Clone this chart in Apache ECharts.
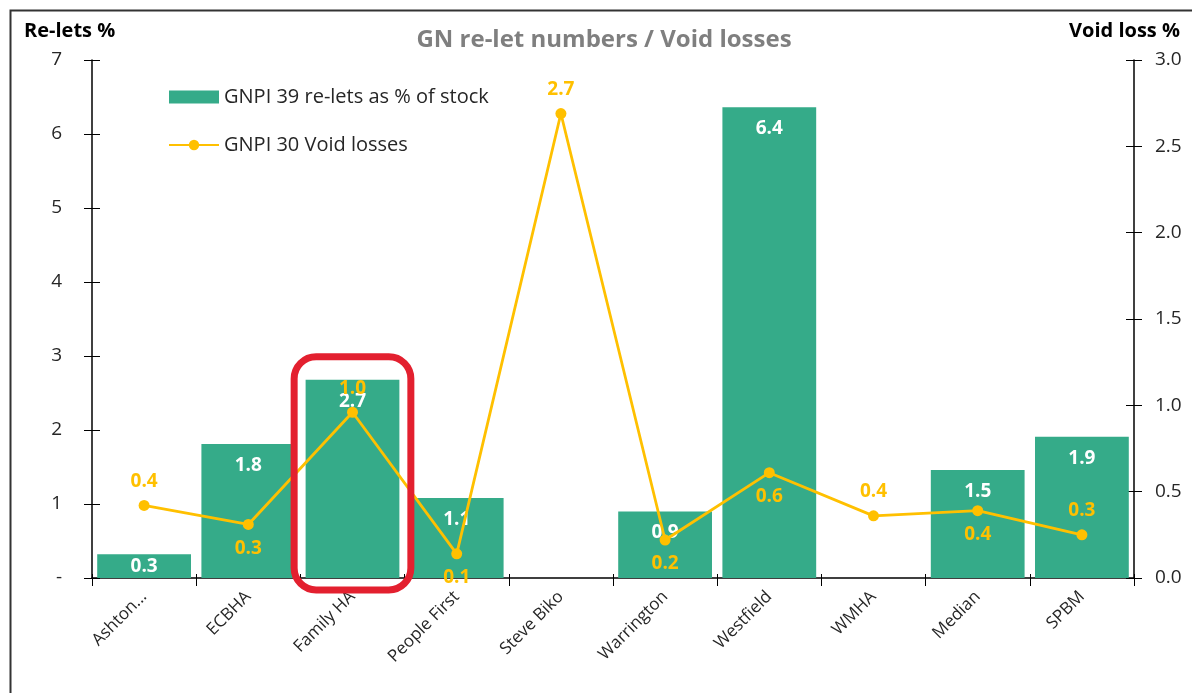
<!DOCTYPE html>
<html><head><meta charset="utf-8">
<script src="https://cdn.jsdelivr.net/npm/echarts@6/dist/echarts.min.js"></script>
<style>html,body{margin:0;padding:0;background:#fff}#c{width:1192px;height:693px}</style>
</head><body><div id="c"></div>
<script>
const categories = ['Ashton...', 'ECBHA', 'Family HA', 'People First', 'Steve Biko', 'Warrington', 'Westfield', 'WMHA', 'Median', 'SPBM'];
const reletsPct = [0.32, 1.81, 2.68, 1.08, null, 0.9, 6.36, null, 1.46, 1.91];
const voidLoss = [0.42, 0.31, 0.96, 0.14, 2.69, 0.22, 0.61, 0.36, 0.39, 0.25];
const leftTicks = [0, 1, 2, 3, 4, 5, 6, 7];
const rightTicks = [0, 0.5, 1, 1.5, 2, 2.5, 3];
const highlightCategory = 'Family HA';

const lineLabelSide = ['top', 'bottom', 'top', 'bottom', 'top', 'bottom', 'bottom', 'top', 'bottom', 'top'];
const GREEN = '#35AB89', GOLD = '#FFC000';
const FONT = 'Open Sans, Liberation Sans, sans-serif';

const tickOnly = (pos, min, max, interval) => ({
  type: 'value', min, max, interval, position: pos,
  axisLine: { show: false }, axisLabel: { show: false }, splitLine: { show: false },
  axisTick: { show: true, inside: true, length: 8, lineStyle: { color: '#000' } }
});

const chart = echarts.init(document.getElementById('c'));
const borderRect = { type: 'rect', left: 8, top: 8, shape: { width: 1300, height: 800 }, style: { fill: 'none', stroke: '#333', lineWidth: 2 }, silent: true };
chart.setOption({
  animation: false,
  textStyle: { fontFamily: FONT },
  title: [
    { text: 'GN re-let numbers / Void losses', left: 604, textAlign: 'center', top: 28, padding: 0,
      textStyle: { color: '#7f7f7f', fontSize: 24, fontWeight: 'bold' } },
    { text: 'Re-lets %', left: 24, top: 21, padding: 0,
      textStyle: { color: '#000', fontSize: 20, fontWeight: 'bold' } },
    { text: 'Void loss %', right: 12, top: 21, padding: 0,
      textStyle: { color: '#000', fontSize: 20, fontWeight: 'bold' } }
  ],
  legend: {
    orient: 'vertical', left: 168, top: 87, padding: 0, itemGap: 28, itemWidth: 50, itemHeight: 13,
    textStyle: { fontSize: 20, color: '#262626' },
    data: [
      { name: 'GNPI 39 re-lets as % of stock', icon: 'rect' },
      { name: 'GNPI 30 Void losses' }
    ]
  },
  grid: { left: 92, right: 58, top: 60, bottom: 115 },
  xAxis: [
    {
      type: 'category', data: categories, position: 'bottom',
      axisLine: { lineStyle: { color: '#000', width: 1.5 } },
      axisTick: { show: true, length: 8, lineStyle: { color: '#000' } },
      axisLabel: { rotate: 45, fontSize: 17, color: '#262626', margin: 16 }
    },
    {
      type: 'category', data: categories, position: 'bottom',
      axisLine: { show: false }, axisLabel: { show: false },
      axisTick: { show: true, inside: true, length: 4, lineStyle: { color: '#000' } }
    }
  ],
  yAxis: [
    {
      type: 'value', min: 0, max: 7, interval: 1, position: 'left',
      axisLine: { show: true, lineStyle: { color: '#000', width: 1.5 } },
      axisTick: { show: true, length: 8, lineStyle: { color: '#000' } },
      splitLine: { show: false },
      axisLabel: { fontSize: 19, color: '#262626', margin: 30,
        formatter: v => leftTicks.includes(v) ? (v === 0 ? '-' : String(v)) : '' }
    },
    {
      type: 'value', min: 0, max: 3, interval: 0.5, position: 'right',
      axisLine: { show: true, lineStyle: { color: '#000', width: 1.5 } },
      axisTick: { show: true, length: 8, lineStyle: { color: '#000' } },
      splitLine: { show: false },
      axisLabel: { fontSize: 19, color: '#262626', margin: 21,
        formatter: v => rightTicks.includes(v) ? v.toFixed(1) : '' }
    },
    tickOnly('left', 0, 7, 1),
    tickOnly('right', 0, 3, 0.5)
  ],
  series: [
    {
      name: 'GNPI 39 re-lets as % of stock', type: 'bar', yAxisIndex: 0, xAxisIndex: 0,
      // short bars get their label centred inside, others just below the top
      data: reletsPct.map(v => (v != null && v < 0.5) ? { value: v, label: { position: 'inside' } } : v),
      barCategoryGap: '10%',
      itemStyle: { color: GREEN },
      label: { show: true, position: 'insideTop', distance: 12, color: '#fff', fontSize: 19, fontWeight: 'bold',
        formatter: p => p.value == null ? '' : p.value.toFixed(1) }
    },
    {
      name: 'GNPI 30 Void losses', type: 'line', yAxisIndex: 1, xAxisIndex: 0,
      data: voidLoss.map((v, i) => ({ value: v, label: { position: lineLabelSide[i] } })),
      itemStyle: { color: GOLD }, lineStyle: { color: GOLD, width: 2.8 },
      symbol: 'circle', symbolSize: 11, z: 5,
      label: { show: true, distance: 9, color: GOLD, fontSize: 19, fontWeight: 'bold',
        formatter: p => p.value.toFixed(1) }
    }
  ],
  graphic: [borderRect]
});

// Red highlight box around the highlighted category
const hi = categories.indexOf(highlightCategory);
const cx = chart.convertToPixel({ xAxisIndex: 0 }, hi);
const bandW = chart.convertToPixel({ xAxisIndex: 0 }, 1) - chart.convertToPixel({ xAxisIndex: 0 }, 0);
const yTop = chart.convertToPixel({ yAxisIndex: 0 }, reletsPct[hi]);
const yBase = chart.convertToPixel({ yAxisIndex: 0 }, 0);
chart.setOption({
  graphic: [
    borderRect,
    { type: 'rect', z: 100, shape: { x: cx - bandW * 0.56, y: yTop - 23, width: bandW * 1.12, height: yBase - yTop + 35, r: 22 },
      style: { fill: 'none', stroke: '#E3202F', lineWidth: 7 }, silent: true }
  ]
});
</script></body></html>
